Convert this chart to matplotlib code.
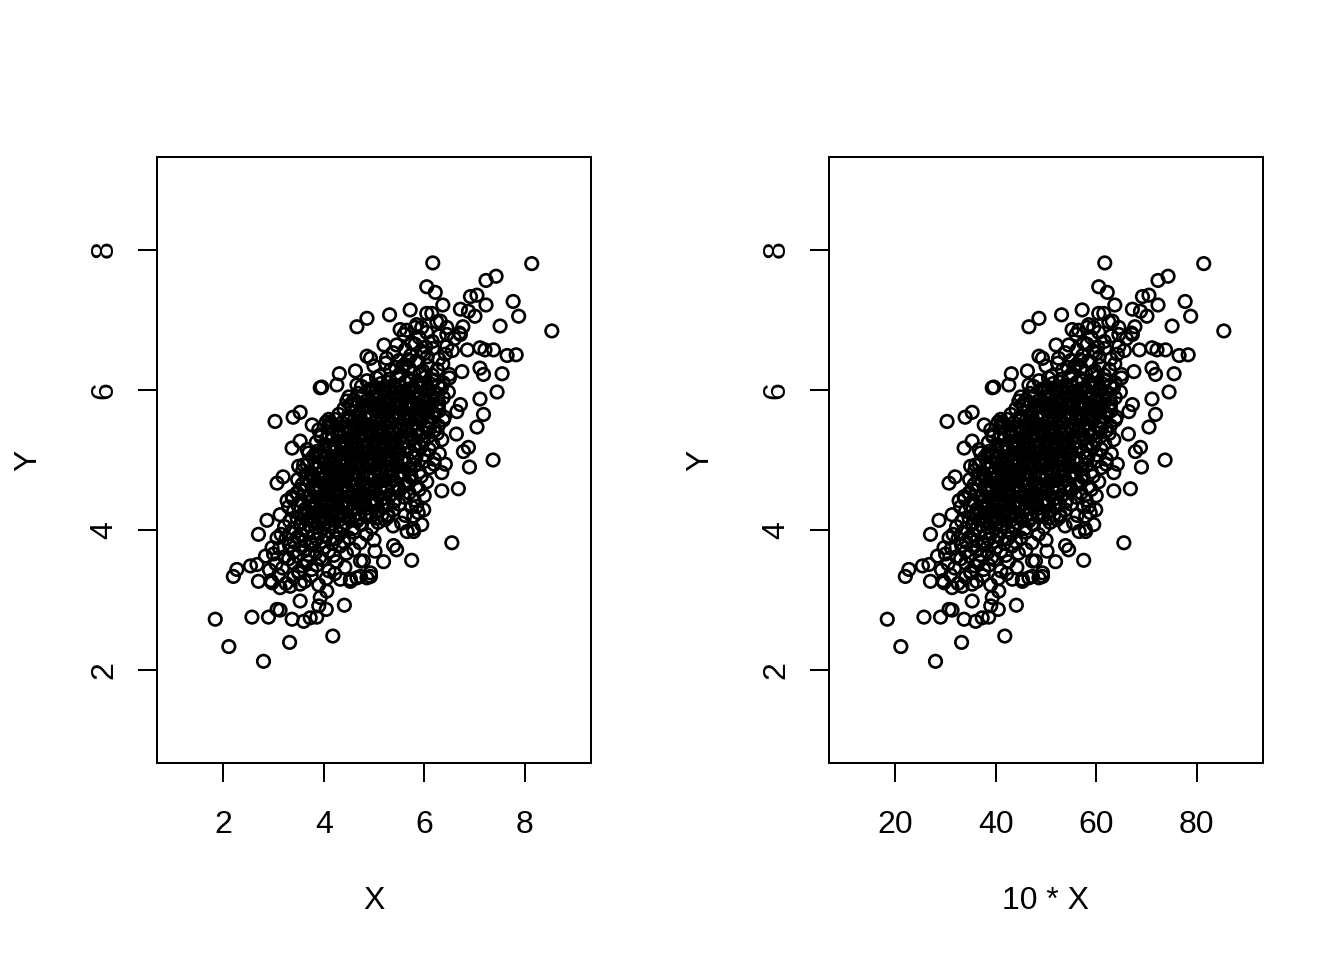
import matplotlib
matplotlib.use("Agg")
import matplotlib.pyplot as plt
import numpy as np

plt.rcParams['font.family'] = ['Liberation Sans', 'DejaVu Sans']

# ---- data (left panel: X vs Y; right panel: 10*X vs Y) ----
# isolated / edge points
outer_x = [6.17, 8.14, 7.43, 7.23, 6.05, 6.22, 6.92, 7.05, 7.23, 7.77, 6.37, 7.88, 6.72, 6.88, 7.01,
           5.31, 5.72, 6.05, 6.15, 6.32, 7.51, 8.54, 6.77, 5.52, 5.82, 5.95, 5.20, 6.45, 6.72, 7.11,
           7.21, 7.38, 7.65, 7.83, 6.86, 7.11, 7.18, 7.55, 7.45, 6.75, 7.11, 7.18, 7.05, 6.64, 6.88,
           6.78, 7.37, 6.90, 6.42, 6.35, 6.68, 6.35, 5.99, 5.79, 5.95, 5.66, 5.79, 6.55, 5.39, 5.45,
           6.72, 6.65, 5.75, 5.19, 4.79, 5.02, 5.78, 5.85, 4.93, 4.86, 4.53, 4.66, 1.84, 2.11, 2.80,
           3.32, 4.18, 2.57, 2.90, 3.07, 3.13, 3.37, 3.60, 3.73, 3.86, 3.53, 3.90, 4.05, 4.41, 2.20,
           2.27, 2.54, 2.67, 2.70, 2.97, 3.13, 2.84, 2.97, 3.33, 3.53, 3.93, 4.06, 4.33, 4.53, 4.73,
           4.93, 4.73, 3.03, 3.39, 3.53, 3.77, 3.90, 4.13, 4.13, 4.46, 4.53, 3.37, 3.53, 3.67, 3.50,
           3.60, 3.07, 3.19, 3.37, 3.47, 3.53, 2.87, 3.13, 2.70, 3.07, 3.27, 3.80, 3.83, 3.93, 4.66,
           4.86, 4.93, 4.31, 4.63, 3.93, 3.96, 4.26, 4.66, 4.10, 4.86]
outer_y = [7.81, 7.80, 7.62, 7.56, 7.47, 7.39, 7.33, 7.35, 7.21, 7.26, 7.21, 7.05, 7.15, 7.12, 7.05,
           7.07, 7.14, 7.09, 7.09, 6.98, 6.91, 6.84, 6.90, 6.86, 6.89, 6.89, 6.64, 6.79, 6.79, 6.60,
           6.57, 6.57, 6.49, 6.50, 6.57, 6.31, 6.22, 6.23, 5.97, 6.26, 5.87, 5.65, 5.47, 5.37, 5.18,
           5.12, 5.00, 4.90, 4.94, 4.82, 4.59, 4.56, 4.29, 4.20, 4.08, 3.98, 3.98, 3.82, 3.78, 3.72,
           5.79, 5.69, 3.57, 3.55, 3.56, 3.70, 4.02, 4.34, 3.39, 3.32, 3.30, 3.32, 2.73, 2.34, 2.13,
           2.40, 2.49, 2.76, 2.76, 2.87, 2.86, 2.73, 2.70, 2.75, 2.76, 2.99, 2.92, 2.87, 2.93, 3.34,
           3.44, 3.49, 3.51, 3.27, 3.25, 3.18, 3.63, 3.75, 3.20, 3.23, 3.04, 3.13, 3.30, 3.27, 3.34,
           3.34, 3.56, 5.55, 5.61, 5.68, 5.50, 5.43, 5.53, 5.46, 5.84, 5.79, 5.17, 5.27, 5.15, 4.91,
           4.93, 4.67, 4.76, 4.48, 4.53, 4.58, 4.14, 4.22, 3.94, 3.89, 4.42, 4.74, 5.08, 5.36, 6.90,
           6.48, 6.45, 6.23, 6.27, 6.03, 6.04, 6.07, 6.07, 5.58, 7.02]

# dense core, estimated band by band (y bands of 0.2)
core_x = [
    2.95, 3.1, 3.25, 3.4, 3.5, 3.62, 3.75, 3.9, 4.05, 4.22,
    2.92, 3.05, 3.18, 3.3, 3.4, 3.5, 3.58, 3.67, 3.76, 3.86, 3.97, 4.1, 4.25, 4.42,
    3.0, 3.12, 3.22, 3.32, 3.4, 3.48, 3.56, 3.63, 3.7, 3.77, 3.84, 3.92, 4.0, 4.1, 4.2, 4.32, 4.45, 4.6,
    3.15, 3.25, 3.33, 3.41, 3.48, 3.55, 3.62, 3.68, 3.74, 3.8, 3.86, 3.92, 3.98, 4.04, 4.1, 4.17, 4.24, 4.32, 4.4, 4.5, 4.6, 4.72, 4.85, 5.0,
    3.22, 3.32, 3.4, 3.47, 3.54, 3.6, 3.66, 3.72, 3.78, 3.84, 3.9, 3.95, 4.0, 4.06, 4.12, 4.18, 4.24, 4.3, 4.37, 4.44, 4.51, 4.58, 4.66, 4.75, 4.85, 4.96, 5.08, 5.22, 5.38, 5.55,
    3.3, 3.4, 3.48, 3.56, 3.63, 3.7, 3.76, 3.82, 3.88, 3.94, 4.0, 4.06, 4.12, 4.18, 4.24, 4.3, 4.36, 4.42, 4.48, 4.55, 4.62, 4.69, 4.76, 4.84, 4.92, 5.0, 5.09, 5.18, 5.28, 5.38, 5.5, 5.62, 5.75, 5.88,
    3.38, 3.47, 3.55, 3.62, 3.69, 3.75, 3.81, 3.87, 3.93, 3.99, 4.05, 4.11, 4.17, 4.23, 4.29, 4.35, 4.41, 4.47, 4.53, 4.59, 4.65, 4.71, 4.77, 4.84, 4.91, 4.98, 5.06, 5.14, 5.22, 5.31, 5.4, 5.5, 5.6, 5.7, 5.8, 5.9, 6.0, 4.44,
    3.48, 3.57, 3.65, 3.72, 3.79, 3.85, 3.91, 3.97, 4.03, 4.09, 4.15, 4.21, 4.27, 4.33, 4.39, 4.45, 4.51, 4.57, 4.63, 4.69, 4.75, 4.81, 4.87, 4.93, 5.0, 5.07, 5.14, 5.22, 5.3, 5.38, 5.47, 5.56, 5.65, 5.74, 5.84, 5.94, 6.05, 4.36, 4.78, 5.2,
    3.58, 3.67, 3.75, 3.82, 3.89, 3.95, 4.01, 4.07, 4.13, 4.19, 4.25, 4.31, 4.37, 4.43, 4.49, 4.55, 4.61, 4.67, 4.73, 4.79, 4.85, 4.91, 4.97, 5.03, 5.09, 5.16, 5.23, 5.3, 5.38, 5.46, 5.54, 5.63, 5.72, 5.81, 5.9, 6.0, 6.1, 6.2, 4.46, 4.88, 5.28, 4.2,
    3.7, 3.78, 3.86, 3.93, 4.0, 4.06, 4.12, 4.18, 4.24, 4.3, 4.36, 4.42, 4.48, 4.54, 4.6, 4.66, 4.72, 4.78, 4.84, 4.9, 4.96, 5.02, 5.08, 5.14, 5.2, 5.27, 5.34, 5.41, 5.49, 5.57, 5.65, 5.74, 5.83, 5.92, 6.01, 6.1, 6.2, 6.3, 4.57, 4.99, 5.38, 5.78,
    3.85, 3.94, 4.02, 4.09, 4.16, 4.22, 4.28, 4.34, 4.4, 4.46, 4.52, 4.58, 4.64, 4.7, 4.76, 4.82, 4.88, 4.94, 5.0, 5.06, 5.12, 5.18, 5.24, 5.3, 5.37, 5.44, 5.51, 5.58, 5.66, 5.74, 5.82, 5.9, 5.99, 6.08, 6.17, 6.26, 6.35, 4.7, 5.1, 5.55,
    4.05, 4.14, 4.22, 4.29, 4.36, 4.42, 4.48, 4.54, 4.6, 4.66, 4.72, 4.78, 4.84, 4.9, 4.96, 5.02, 5.08, 5.14, 5.2, 5.26, 5.32, 5.38, 5.44, 5.5, 5.57, 5.64, 5.71, 5.78, 5.86, 5.94, 6.02, 6.1, 6.19, 6.28, 6.38, 4.88, 5.3, 5.74,
    4.3, 4.4, 4.48, 4.56, 4.63, 4.7, 4.77, 4.84, 4.9, 4.96, 5.02, 5.08, 5.14, 5.2, 5.26, 5.32, 5.38, 5.44, 5.5, 5.56, 5.62, 5.68, 5.75, 5.82, 5.89, 5.96, 6.04, 6.12, 6.2, 6.29, 6.4, 5.05, 5.5, 5.9,
    4.5, 4.6, 4.68, 4.76, 4.84, 4.91, 4.98, 5.05, 5.12, 5.19, 5.26, 5.33, 5.4, 5.47, 5.54, 5.61, 5.68, 5.75, 5.82, 5.89, 5.96, 6.04, 6.12, 6.2, 6.29, 6.38, 6.48, 5.22, 5.64, 6.0,
    4.75, 4.86, 4.96, 5.05, 5.14, 5.22, 5.3, 5.38, 5.46, 5.54, 5.62, 5.7, 5.78, 5.86, 5.94, 6.02, 6.1, 6.19, 6.28, 6.38, 6.5, 5.34, 5.74, 6.14,
    5.0, 5.12, 5.23, 5.33, 5.43, 5.52, 5.61, 5.7, 5.79, 5.88, 5.97, 6.06, 6.16, 6.26, 6.37, 6.5, 5.56, 5.92,
    5.25, 5.38, 5.5, 5.62, 5.73, 5.84, 5.95, 6.06, 6.17, 6.29, 6.42, 6.56, 5.68, 6.0,
    5.45, 5.6, 5.75, 5.9, 6.03, 6.16, 6.3, 6.45, 6.6, 5.82,
    5.65, 5.85, 6.05, 6.25, 6.45, 6.7,
]
core_y = [
    3.28, 3.36, 3.24, 3.33, 3.39, 3.27, 3.35, 3.22, 3.31, 3.38,
    3.43, 3.52, 3.46, 3.59, 3.53, 3.41, 3.49, 3.56, 3.44, 3.5, 3.58, 3.42, 3.55, 3.47,
    3.66, 3.74, 3.62, 3.78, 3.69, 3.63, 3.76, 3.71, 3.65, 3.79, 3.68, 3.61, 3.75, 3.7, 3.64, 3.77, 3.67, 3.72,
    3.94, 3.88, 3.96, 3.83, 3.9, 3.93, 3.85, 3.98, 3.8, 3.92, 3.87, 3.96, 3.84, 3.91, 3.99, 3.81, 3.88, 3.95, 3.83, 3.89, 3.97, 3.82, 3.94, 3.86,
    4.05, 4.13, 4.02, 4.17, 4.09, 4.01, 4.15, 4.07, 4.19, 4.04, 4.11, 4.16, 4.03, 4.12, 4.08, 4.18, 4.0, 4.14, 4.06, 4.1, 4.17, 4.02, 4.13, 4.08, 4.19, 4.04, 4.11, 4.15, 4.06, 4.1,
    4.33, 4.27, 4.36, 4.21, 4.3, 4.26, 4.35, 4.31, 4.24, 4.39, 4.28, 4.33, 4.22, 4.37, 4.3, 4.26, 4.34, 4.2, 4.38, 4.28, 4.32, 4.23, 4.36, 4.31, 4.24, 4.39, 4.27, 4.35, 4.22, 4.29, 4.37, 4.21, 4.33, 4.25,
    4.45, 4.53, 4.42, 4.57, 4.49, 4.41, 4.55, 4.47, 4.59, 4.44, 4.51, 4.56, 4.43, 4.52, 4.48, 4.58, 4.4, 4.54, 4.46, 4.5, 4.57, 4.42, 4.53, 4.48, 4.59, 4.44, 4.51, 4.55, 4.46, 4.5, 4.41, 4.56, 4.47, 4.53, 4.43, 4.58, 4.49, 4.54,
    4.72, 4.65, 4.74, 4.69, 4.78, 4.63, 4.73, 4.67, 4.76, 4.61, 4.7, 4.66, 4.75, 4.71, 4.64, 4.79, 4.68, 4.73, 4.62, 4.77, 4.7, 4.66, 4.74, 4.6, 4.78, 4.68, 4.72, 4.63, 4.76, 4.71, 4.64, 4.79, 4.67, 4.75, 4.62, 4.77, 4.69, 4.73, 4.65, 4.71,
    4.85, 4.93, 4.82, 4.97, 4.89, 4.81, 4.95, 4.87, 4.99, 4.84, 4.91, 4.96, 4.83, 4.92, 4.88, 4.98, 4.8, 4.94, 4.86, 4.9, 4.97, 4.82, 4.93, 4.88, 4.99, 4.84, 4.91, 4.95, 4.86, 4.9, 4.81, 4.96, 4.87, 4.93, 4.83, 4.98, 4.89, 4.94, 4.85, 4.92, 4.84, 4.9,
    5.1, 5.04, 5.12, 5.05, 5.14, 5.09, 5.18, 5.03, 5.13, 5.07, 5.16, 5.01, 5.1, 5.06, 5.15, 5.11, 5.04, 5.19, 5.08, 5.13, 5.02, 5.17, 5.1, 5.06, 5.14, 5.0, 5.18, 5.08, 5.12, 5.03, 5.16, 5.11, 5.04, 5.19, 5.07, 5.15, 5.01, 5.09, 5.17, 5.02, 5.13, 5.05,
    5.25, 5.33, 5.22, 5.37, 5.29, 5.21, 5.35, 5.27, 5.39, 5.24, 5.31, 5.36, 5.23, 5.32, 5.28, 5.38, 5.2, 5.34, 5.26, 5.3, 5.37, 5.22, 5.33, 5.28, 5.39, 5.24, 5.31, 5.35, 5.26, 5.3, 5.21, 5.36, 5.27, 5.33, 5.23, 5.38, 5.29, 5.34, 5.25, 5.32,
    5.54, 5.49, 5.58, 5.43, 5.53, 5.47, 5.56, 5.41, 5.5, 5.46, 5.55, 5.51, 5.44, 5.59, 5.48, 5.53, 5.42, 5.57, 5.5, 5.46, 5.54, 5.4, 5.58, 5.48, 5.52, 5.43, 5.56, 5.51, 5.44, 5.59, 5.47, 5.55, 5.41, 5.49, 5.57, 5.42, 5.53, 5.45,
    5.65, 5.73, 5.62, 5.77, 5.69, 5.61, 5.75, 5.67, 5.79, 5.64, 5.71, 5.76, 5.63, 5.72, 5.68, 5.78, 5.6, 5.74, 5.66, 5.7, 5.77, 5.62, 5.73, 5.68, 5.79, 5.64, 5.71, 5.75, 5.66, 5.7, 5.61, 5.76, 5.67, 5.73,
    5.9, 5.86, 5.95, 5.91, 5.84, 5.99, 5.88, 5.93, 5.82, 5.97, 5.9, 5.86, 5.94, 5.8, 5.98, 5.88, 5.92, 5.83, 5.96, 5.91, 5.84, 5.99, 5.87, 5.95, 5.81, 5.89, 5.97, 5.82, 5.93, 5.85,
    6.05, 6.13, 6.02, 6.17, 6.09, 6.01, 6.15, 6.07, 6.19, 6.04, 6.11, 6.16, 6.03, 6.12, 6.08, 6.18, 6.0, 6.14, 6.06, 6.1, 6.17, 6.02, 6.13, 6.08,
    6.34, 6.2, 6.38, 6.28, 6.32, 6.23, 6.36, 6.31, 6.24, 6.39, 6.27, 6.35, 6.21, 6.29, 6.37, 6.22, 6.33, 6.25,
    6.45, 6.53, 6.42, 6.57, 6.49, 6.41, 6.55, 6.47, 6.59, 6.44, 6.51, 6.56, 6.43, 6.52,
    6.64, 6.79, 6.67, 6.75, 6.61, 6.69, 6.77, 6.62, 6.73, 6.65,
    6.85, 6.93, 6.82, 6.97, 6.89, 6.81,
]

# extra points filling the darkest middle of the cloud
mid_x = [
    3.62, 3.73, 3.84, 3.95, 4.06, 4.17, 4.28, 4.39, 4.5, 4.61, 4.72, 4.83, 4.94, 5.05, 5.16, 5.28,
    3.72, 3.83, 3.94, 4.05, 4.16, 4.27, 4.38, 4.49, 4.6, 4.71, 4.82, 4.93, 5.04, 5.15, 5.27, 5.4,
    3.82, 3.93, 4.04, 4.15, 4.26, 4.37, 4.48, 4.59, 4.7, 4.81, 4.92, 5.03, 5.14, 5.25, 5.37, 5.5, 5.63,
    3.92, 4.03, 4.14, 4.25, 4.36, 4.47, 4.58, 4.69, 4.8, 4.91, 5.02, 5.13, 5.24, 5.35, 5.47, 5.6, 5.73,
    4.02, 4.13, 4.24, 4.35, 4.46, 4.57, 4.68, 4.79, 4.9, 5.01, 5.12, 5.23, 5.34, 5.45, 5.57, 5.7, 5.83,
    4.12, 4.23, 4.34, 4.45, 4.56, 4.67, 4.78, 4.89, 5.0, 5.11, 5.22, 5.33, 5.44, 5.55, 5.67, 5.8, 5.93,
    4.3, 4.41, 4.52, 4.63, 4.74, 4.85, 4.96, 5.07, 5.18, 5.29, 5.4, 5.51, 5.62, 5.73, 5.85, 5.98, 6.1,
    4.5, 4.61, 4.72, 4.83, 4.94, 5.05, 5.16, 5.27, 5.38, 5.49, 5.6, 5.71, 5.82, 5.93, 6.05, 6.18,
    4.7, 4.82, 4.94, 5.06, 5.18, 5.3, 5.42, 5.54, 5.66, 5.78, 5.9, 6.02, 6.15, 6.28,
    4.9, 5.03, 5.16, 5.29, 5.42, 5.55, 5.68, 5.81, 5.94, 6.07, 6.2, 6.34,
]
mid_y = [
    4.21, 4.18, 4.23, 4.2, 4.17, 4.22, 4.19, 4.24, 4.16, 4.21, 4.18, 4.23, 4.2, 4.17, 4.22, 4.19,
    4.4, 4.37, 4.42, 4.39, 4.44, 4.36, 4.41, 4.38, 4.43, 4.4, 4.37, 4.42, 4.39, 4.44, 4.36, 4.41,
    4.61, 4.58, 4.63, 4.6, 4.57, 4.62, 4.59, 4.64, 4.56, 4.61, 4.58, 4.63, 4.6, 4.57, 4.62, 4.59, 4.64,
    4.8, 4.77, 4.82, 4.79, 4.84, 4.76, 4.81, 4.78, 4.83, 4.8, 4.77, 4.82, 4.79, 4.84, 4.76, 4.81, 4.78,
    5.01, 4.98, 5.03, 5.0, 4.97, 5.02, 4.99, 5.04, 4.96, 5.01, 4.98, 5.03, 5.0, 4.97, 5.02, 4.99, 5.04,
    5.2, 5.17, 5.22, 5.19, 5.24, 5.16, 5.21, 5.18, 5.23, 5.2, 5.17, 5.22, 5.19, 5.24, 5.16, 5.21, 5.18,
    5.41, 5.38, 5.43, 5.4, 5.37, 5.42, 5.39, 5.44, 5.36, 5.41, 5.38, 5.43, 5.4, 5.37, 5.42, 5.39, 5.44,
    5.6, 5.57, 5.62, 5.59, 5.64, 5.56, 5.61, 5.58, 5.63, 5.6, 5.57, 5.62, 5.59, 5.64, 5.56, 5.61,
    5.81, 5.78, 5.83, 5.8, 5.77, 5.82, 5.79, 5.84, 5.76, 5.81, 5.78, 5.83, 5.8, 5.77,
    6.0, 5.97, 6.02, 5.99, 6.04, 5.96, 6.01, 5.98, 6.03, 6.0, 5.97, 6.02,
]

for a, b in ((outer_x, outer_y), (core_x, core_y), (mid_x, mid_y)):
    if len(a) != len(b):
        raise SystemExit(f"length mismatch {len(a)} {len(b)}")

X = np.array(outer_x + core_x + mid_x)
Y = np.array(outer_y + core_y + mid_y)

panels = [
    dict(x=X, xlim=(1, 9), xticks=[2, 4, 6, 8], xlabel="X"),
    dict(x=10 * X, xlim=(10, 90), xticks=[20, 40, 60, 80], xlabel="10 * X"),
]
ylim = (1, 9)
yticks = [2, 4, 6, 8]

W, H = 1344, 960
fig = plt.figure(figsize=(7, 5), dpi=192)
lefts = [157, 829]
for left, p in zip(lefts, panels):
    ax = fig.add_axes([left / W, 1 - 763 / H, 434 / W, 606 / H])
    ax.scatter(p["x"], Y, s=22, facecolors="none", edgecolors="black", linewidths=1.0)
    x0, x1 = p["xlim"]
    d = 0.04 * (x1 - x0)
    ax.set_xlim(x0 - d, x1 + d)
    y0, y1 = ylim
    dy = 0.04 * (y1 - y0)
    ax.set_ylim(y0 - dy, y1 + dy)
    ax.set_xticks(p["xticks"])
    ax.set_yticks(yticks)
    ax.set_xticklabels([str(v) for v in p["xticks"]])
    ax.set_yticklabels([str(v) for v in yticks], rotation=90, va="center")
    ax.tick_params(axis="both", direction="out", length=7.2, width=0.75, labelsize=12, color="black")
    ax.tick_params(axis="x", pad=10.5)
    ax.tick_params(axis="y", pad=7.0)
    for s in ax.spines.values():
        s.set_linewidth(0.75)
    ax.set_xlabel(p["xlabel"], fontsize=12, labelpad=17)
    ax.set_ylabel("Y", fontsize=12, labelpad=17)

fig.savefig("out.png", dpi=192)
